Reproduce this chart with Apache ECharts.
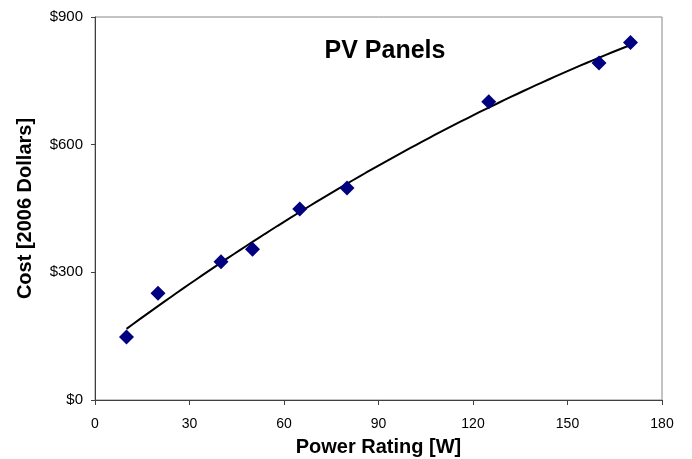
<!DOCTYPE html>
<html><head><meta charset="utf-8">
<script src="https://cdn.jsdelivr.net/npm/echarts@6/dist/echarts.min.js"></script>
<style>html,body{margin:0;padding:0;background:#fff}#c{width:692px;height:459px}</style>
</head><body><div id="c"></div>
<script>
const powerW = [10, 20, 40, 50, 65, 80, 125, 160, 170];
const costUSD = [148, 251, 325, 354, 449, 498, 701, 792, 840];
const xTicks = [0, 30, 60, 90, 120, 150, 180];
const yTicks = [0, 300, 600, 900];

// quadratic least-squares trend line fitted to the data
function quadFit(xs, ys) {
  const n = xs.length;
  let s = [0,0,0,0,0], t = [0,0,0];
  for (let i = 0; i < n; i++) {
    const x = xs[i], y = ys[i];
    for (let k = 0; k < 5; k++) s[k] += Math.pow(x, k);
    for (let k = 0; k < 3; k++) t[k] += y * Math.pow(x, k);
  }
  const M = [[s[0],s[1],s[2],t[0]],[s[1],s[2],s[3],t[1]],[s[2],s[3],s[4],t[2]]];
  for (let i = 0; i < 3; i++) {
    for (let j = i + 1; j < 3; j++) {
      const f = M[j][i] / M[i][i];
      for (let k = i; k < 4; k++) M[j][k] -= f * M[i][k];
    }
  }
  const c = [0,0,0];
  for (let i = 2; i >= 0; i--) {
    let v = M[i][3];
    for (let k = i + 1; k < 3; k++) v -= M[i][k] * c[k];
    c[i] = v / M[i][i];
  }
  return c;
}
const coef = quadFit(powerW, costUSD);
const xMin = Math.min(...powerW), xMax = Math.max(...powerW);
const trend = [];
for (let i = 0; i <= 80; i++) {
  const x = xMin + (xMax - xMin) * i / 80;
  trend.push([x, coef[0] + coef[1] * x + coef[2] * x * x]);
}

const chart = echarts.init(document.getElementById('c'));
chart.setOption({
  animation: false,
  title: {
    text: 'PV Panels', left: 380, top: 34, textAlign: 'center',
    textStyle: { fontFamily: 'Liberation Sans', fontWeight: 'bold', fontSize: 25, color: '#000' }
  },
  grid: { left: 95, right: 30, top: 17, bottom: 59, show: true, borderColor: '#888', borderWidth: 1, containLabel: false, outerBoundsMode: 'none' },
  xAxis: {
    type: 'value', min: 0, max: 180, interval: 30,
    name: 'Power Rating [W]', nameLocation: 'middle', nameGap: 37,
    nameTextStyle: { fontFamily: 'Liberation Sans', fontWeight: 'bold', fontSize: 20, color: '#000' },
    axisLine: { show: true, lineStyle: { color: '#404040', width: 1 } },
    axisTick: { show: true, length: 5, lineStyle: { color: '#404040' } },
    axisLabel: { fontFamily: 'Liberation Sans', fontSize: 14, color: '#000', margin: 17 },
    splitLine: { show: false }
  },
  yAxis: {
    type: 'value', min: 0, max: 900, interval: 300,
    name: 'Cost [2006 Dollars]', nameLocation: 'middle', nameGap: 60, nameRotate: 90,
    nameTextStyle: { fontFamily: 'Liberation Sans', fontWeight: 'bold', fontSize: 20, color: '#000' },
    axisLine: { show: true, lineStyle: { color: '#404040', width: 1 } },
    axisTick: { show: true, length: 4, lineStyle: { color: '#404040' } },
    axisLabel: { fontFamily: 'Liberation Sans', fontSize: 15, color: '#000', margin: 12, formatter: v => '$' + v },
    splitLine: { show: false }
  },
  series: [
    {
      type: 'line', data: trend, showSymbol: false, symbol: 'none', smooth: false,
      lineStyle: { color: '#000', width: 2 }, z: 2
    },
    {
      type: 'scatter', data: powerW.map((x, i) => [x, costUSD[i]]),
      symbol: 'diamond', symbolSize: [15, 15], itemStyle: { color: '#000080', opacity: 1 }, z: 3
    }
  ]
});
</script></body></html>
